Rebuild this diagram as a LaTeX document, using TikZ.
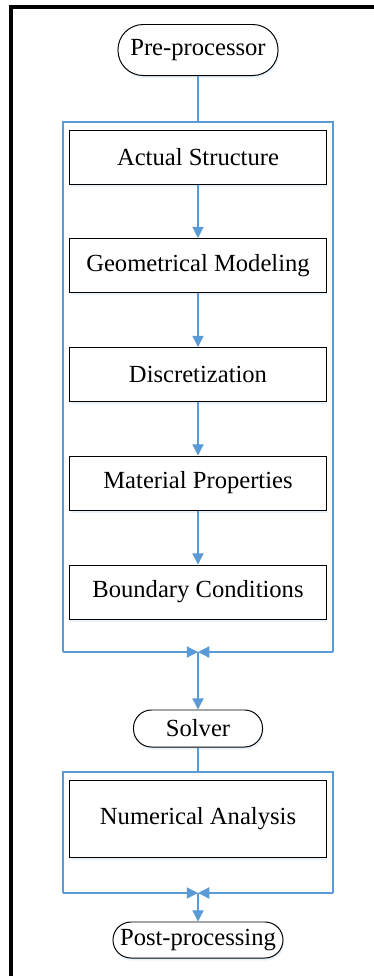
\documentclass[tikz,border=0pt]{standalone}
\usepackage{fontspec}
\setmainfont{Liberation Serif}
\usetikzlibrary{arrows.meta,shadows}
\definecolor{flowblue}{RGB}{91,155,213}

\begin{document}
\begin{tikzpicture}[x=0.025cm, y=-0.025cm,
    etapa/.style={rectangle, draw, line width=0.7pt, fill=white, minimum width=6.4cm, minimum height=1.35cm,
        font=\fontsize{17.5}{20}\selectfont,
        drop shadow={shadow xshift=0.8pt, shadow yshift=-1.8pt, fill=flowblue!25, opacity=0.5}},
    terminal/.style={rectangle, draw, line width=0.7pt, fill=white, rounded corners=0.45cm,
        font=\fontsize{17.5}{20}\selectfont,
        drop shadow={shadow xshift=0.8pt, shadow yshift=-1.8pt, fill=flowblue!25, opacity=0.5}},
    grupo/.style={draw=flowblue, line width=0.9pt},
    seta/.style={grupo, -{Triangle[width=8pt,length=8pt]}}]
    \useasboundingbox (0,0) rectangle (374,976);
    \draw[line width=2.2pt] (11,976) -- (11,7) -- (374,7);

    \node[terminal, minimum width=4cm, minimum height=1.275cm, rounded corners=0.63cm] (pre) at (198,50) {Pre-processor};
    \node[etapa] (actual) at (198,157) {Actual Structure};
    \node[etapa] (geo) at (198,265.5) {Geometrical Modeling};
    \node[etapa] (disc) at (198,374.5) {Discretization};
    \node[etapa] (mat) at (198,483) {Material Properties};
    \node[etapa] (bound) at (198,592) {Boundary Conditions};
    \node[terminal, minimum width=3.225cm, minimum height=0.925cm] (solver) at (198,728.5) {Solver};
    \node[etapa, minimum height=1.925cm] (numerical) at (198,818.5) {Numerical Analysis};
    \node[terminal, minimum width=4.25cm, minimum height=0.9cm] (post) at (198,940) {Post-processing};

    % pre-processor group
    \coordinate (pretl) at (63,122);
    \coordinate (pretr) at (333,122);
    \coordinate (prebl) at (63,652);
    \coordinate (prebr) at (333,652);
    \coordinate (premerge) at (198,652);
    \draw[grupo] (prebl) -- (pretl) -- (pretr) -- (prebr);
    \draw[seta] (prebl) -- (premerge);
    \draw[seta] (prebr) -- (premerge);
    \draw[grupo] (pre.south) -- (pre |- pretl);

    \draw[seta] (actual) -- (geo);
    \draw[seta] (geo) -- (disc);
    \draw[seta] (disc) -- (mat);
    \draw[seta] (mat) -- (bound);
    \draw[seta] (premerge) -- (solver);

    % solver group
    \coordinate (soltl) at (63,772);
    \coordinate (soltr) at (333,772);
    \coordinate (solbl) at (63,893);
    \coordinate (solbr) at (333,893);
    \coordinate (solmerge) at (198,893);
    \draw[grupo] (solbl) -- (soltl) -- (soltr) -- (solbr);
    \draw[seta] (solbl) -- (solmerge);
    \draw[seta] (solbr) -- (solmerge);
    \draw[grupo] (solver.south) -- (solver |- soltl);
    \draw[seta] (solmerge) -- (post);
\end{tikzpicture}
\end{document}
